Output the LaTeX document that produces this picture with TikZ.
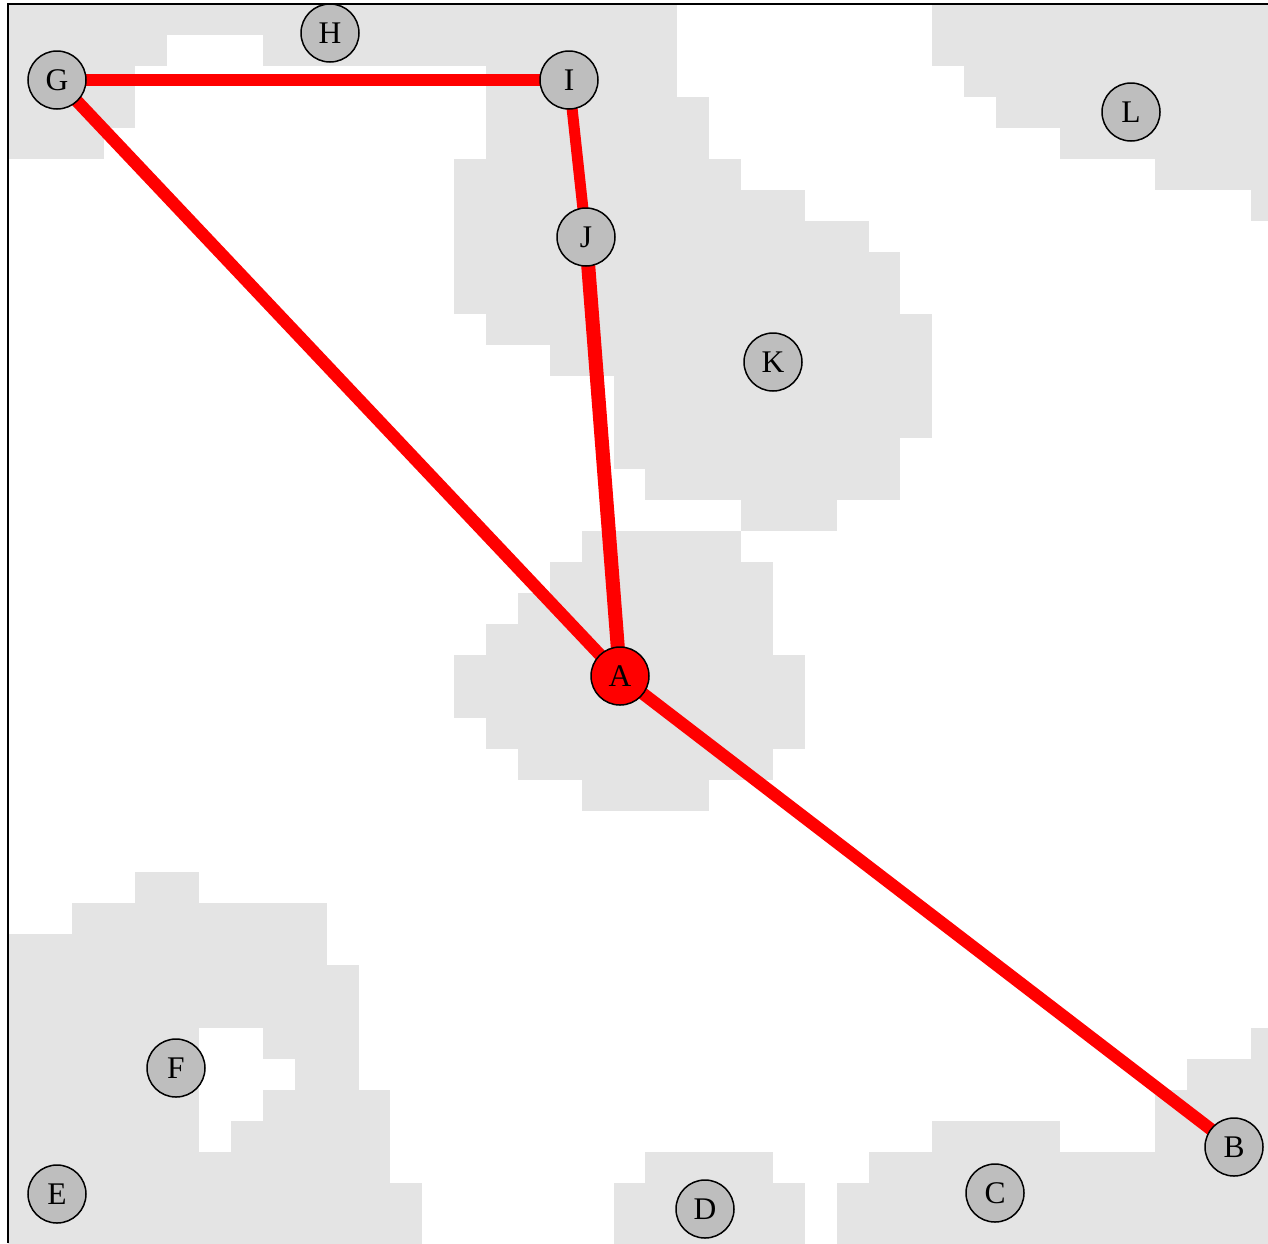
\documentclass[tikz,border=0pt]{standalone}
\usepackage{fontspec}
\setmainfont{Liberation Serif}
\definecolor{blobgrey}{RGB}{228,228,228}
\definecolor{nodegrey}{RGB}{190,190,190}
\pgfdeclarelayer{blobs}
\pgfdeclarelayer{bg}
\pgfsetlayers{blobs,bg,main}
\begin{document}
\begin{tikzpicture}[x=1pt,y=-1pt,
  vtx/.style={circle, draw=black, line width=1.5pt, fill=nodegrey, minimum size=58pt, inner sep=0pt, font=\fontsize{31.5}{31.5}\selectfont},
  srcvtx/.style={vtx, fill=red},
  pathedge/.style={draw=red, line width=#1},
  pathedge/.default=12pt,
  frameline/.style={draw=black, line width=2pt}]
\useasboundingbox (0,0) rectangle (1268,1243);
\begin{pgfonlayer}{blobs}
\begin{scope}
\clip (0,0) rectangle (1268,1243);
\foreach \r/\a/\b in {
  0/0/21, 1/0/5, 1/8/21, 2/0/4, 2/15/21, 3/0/4, 3/15/22, 4/0/3, 4/15/22,
  5/14/23, 6/14/25, 7/14/27, 8/14/28, 9/14/28, 10/15/29, 11/17/29, 12/19/29,
  13/19/29, 14/19/28, 15/20/28, 16/23/26,
  0/29/40, 1/29/40, 2/30/40, 3/31/40, 4/33/40, 5/36/40, 6/39/40,
  17/18/23, 18/17/24, 19/16/24, 20/15/24, 21/14/25, 22/14/25, 23/15/25, 24/16/24, 25/18/22,
  28/4/6, 29/2/10, 30/0/10, 31/0/11, 32/0/11, 33/0/6, 33/8/11, 34/0/6, 34/9/11,
  35/0/6, 35/8/12, 36/0/6, 36/7/12, 37/0/12, 38/0/13, 39/0/13,
  33/39/40, 34/37/40, 35/36/40, 36/29/33, 36/36/40, 37/20/24, 37/27/40,
  38/19/25, 38/26/40, 39/19/25, 39/26/40}
{
  \fill[blobgrey] ({8+31.87*\a},{3.5+31.03*\r}) rectangle ({8+31.87*\b},{3.8+31.03*(\r+1)});
}
\end{scope}
\draw[frameline] (8,1243) -- (8,3.5) -- (1268,3.5);
\end{pgfonlayer}

\node[vtx] (G) at (57,80) {G};
\node[vtx] (H) at (330,33) {H};
\node[vtx] (I) at (569,80) {I};
\node[vtx] (J) at (586,237) {J};
\node[vtx] (K) at (773,362) {K};
\node[vtx] (L) at (1131,112) {L};
\node[srcvtx] (A) at (620,676) {A};
\node[vtx] (B) at (1234,1147) {B};
\node[vtx] (C) at (995,1193) {C};
\node[vtx] (D) at (705,1209) {D};
\node[vtx] (E) at (57,1194) {E};
\node[vtx] (F) at (176,1068) {F};

\begin{pgfonlayer}{bg}
\draw[pathedge=12pt] (G.center) -- (I.center);
\draw[pathedge=12.5pt] (G.center) -- (A.center);
\draw[pathedge=11pt] (I.center) -- (J.center);
\draw[pathedge=14pt] (J.center) -- (A.center);
\draw[pathedge=12.5pt] (A.center) -- (B.center);
\end{pgfonlayer}
\end{tikzpicture}
\end{document}
